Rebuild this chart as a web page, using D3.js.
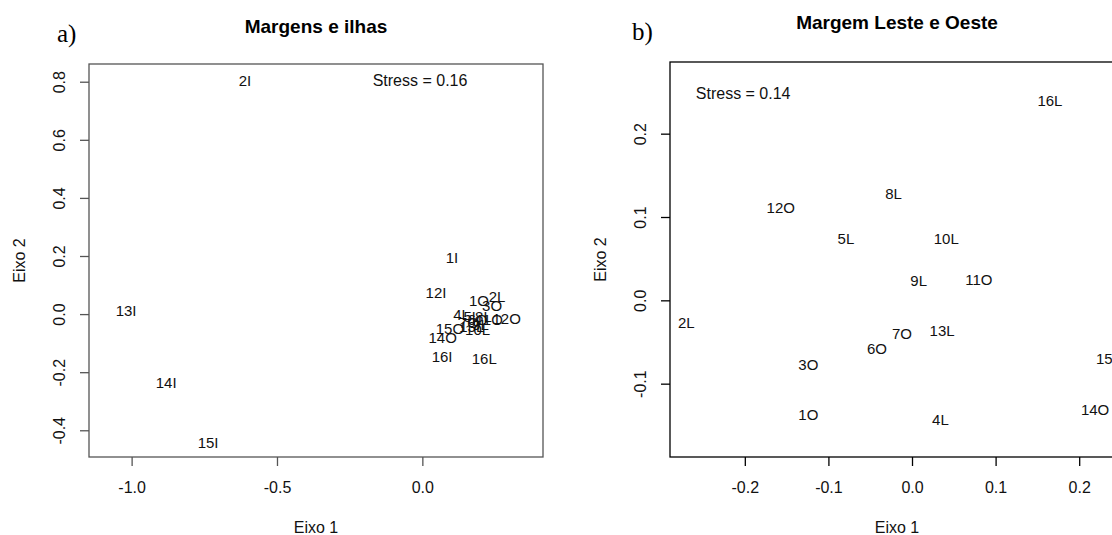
<!DOCTYPE html>
<html>
<head>
<meta charset="utf-8">
<script src="https://cdn.jsdelivr.net/npm/d3@7"></script>
<style>
  body { margin: 0; background: #fff; }
  svg { display: block; font-family: "Liberation Sans", Arial, sans-serif; }
</style>
</head>
<body>
<div id="chart"></div>
<script>
// NMDS scores

// panel a) Margens e ilhas
var labelsA = ["2I", "1I", "12I", "13I", "14I", "15I", "16I",
  "1O", "3O", "2L", "12O", "4L", "5L", "6O", "7O", "8L", "9L", "10L", "11O", "13L", "15O", "14O", "16L"];
var axis1A = [-0.610, 0.102, 0.047, -1.019, -0.881, -0.737, 0.068,
  0.195, 0.240, 0.257, 0.290, 0.135, 0.170, 0.190, 0.160, 0.210, 0.200, 0.190, 0.230, 0.170, 0.095, 0.070, 0.213];
var axis2A = [0.805, 0.193, 0.073, 0.011, -0.237, -0.444, -0.148,
  0.045, 0.030, 0.061, -0.015, -0.002, -0.010, -0.020, -0.030, -0.008, -0.035, -0.055, -0.020, -0.045, -0.050, -0.080, -0.155];
var xTicksA = [-1.0, -0.5, 0.0];
var yTicksA = [-0.4, -0.2, 0.0, 0.2, 0.4, 0.6, 0.8];
var stressA = {text: "Stress = 0.16", x: -0.008, y: 0.805};

// panel b) Margem Leste e Oeste
var labelsB = ["16L", "8L", "12O", "5L", "10L", "9L", "11O", "2L", "7O", "13L", "6O", "3O", "15O", "1O", "14O", "4L"];
var axis1B = [0.165, -0.022, -0.157, -0.079, 0.041, 0.008, 0.080, -0.270, -0.012, 0.036, -0.042, -0.124, 0.237, -0.124, 0.219, 0.034];
var axis2B = [0.239, 0.128, 0.111, 0.074, 0.074, 0.023, 0.025, -0.027, -0.040, -0.036, -0.058, -0.077, -0.070, -0.137, -0.131, -0.143];
var xTicksB = [-0.2, -0.1, 0.0, 0.1, 0.2];
var yTicksB = [-0.1, 0.0, 0.1, 0.2];
var stressB = {text: "Stress = 0.14", x: -0.202, y: 0.2485};

var svg = d3.select("#chart").append("svg")
  .attr("width", 1112)
  .attr("height", 535);

svg.append("rect").attr("width", 1112).attr("height", 535).attr("fill", "#fff");

// R prints a plain hyphen, not the unicode minus
var fmt = function(v) { return d3.format(".1f")(v).replace("\u2212", "-"); };

function drawPanel(opt) {
  var x = d3.scaleLinear().domain(opt.xDomain).range([opt.left, opt.right]);
  var y = d3.scaleLinear().domain(opt.yDomain).range([opt.bottom, opt.top]);
  var g = svg.append("g");

  // plot box
  g.append("rect")
    .attr("x", opt.left).attr("y", opt.top)
    .attr("width", opt.right - opt.left).attr("height", opt.bottom - opt.top)
    .attr("fill", "none").attr("stroke", opt.line).attr("stroke-width", 1.3);

  // x axis
  var gx = g.append("g")
    .attr("transform", "translate(0," + opt.bottom + ")")
    .call(d3.axisBottom(x).tickValues(opt.xTicks).tickSize(9).tickFormat(fmt));
  gx.select(".domain").remove();
  gx.selectAll("line").attr("stroke", opt.line).attr("stroke-width", 1.3);
  gx.selectAll("text")
    .attr("y", 30).attr("dy", "0.35em")
    .attr("fill", "#111").attr("font-size", 16)
    .attr("font-family", "Liberation Sans, Arial, sans-serif");

  // y axis, labels turned like R's las = 0
  var gy = g.append("g")
    .attr("transform", "translate(" + opt.left + ",0)")
    .call(d3.axisLeft(y).tickValues(opt.yTicks).tickSize(9).tickFormat(fmt));
  gy.select(".domain").remove();
  gy.selectAll("line").attr("stroke", opt.line).attr("stroke-width", 1.3);
  gy.selectAll("text")
    .attr("x", 0).attr("y", -30).attr("dy", "0.35em")
    .attr("transform", "rotate(-90)")
    .attr("text-anchor", "middle")
    .attr("fill", "#111").attr("font-size", 16)
    .attr("font-family", "Liberation Sans, Arial, sans-serif");

  // axis titles
  g.append("text")
    .attr("x", (opt.left + opt.right) / 2).attr("y", opt.bottom + 70).attr("dy", "0.35em")
    .attr("text-anchor", "middle").attr("font-size", 16).attr("fill", "#111")
    .text("Eixo 1");
  g.append("text")
    .attr("transform", "translate(" + (opt.left - 70) + "," + ((opt.top + opt.bottom) / 2) + ") rotate(-90)")
    .attr("dy", "0.35em")
    .attr("text-anchor", "middle").attr("font-size", 16).attr("fill", "#111")
    .text("Eixo 2");

  // title and panel letter
  g.append("text")
    .attr("x", (opt.left + opt.right) / 2).attr("y", opt.titleY)
    .attr("text-anchor", "middle").attr("font-size", 19).attr("font-weight", "bold")
    .attr("fill", "#000")
    .text(opt.title);
  g.append("text")
    .attr("x", opt.letterX).attr("y", opt.letterY)
    .attr("font-family", "Liberation Serif, Times New Roman, serif")
    .attr("font-size", 25).attr("fill", "#000")
    .text(opt.letter);

  // stress annotation
  g.append("text")
    .attr("x", x(opt.stress.x)).attr("y", y(opt.stress.y)).attr("dy", "0.35em")
    .attr("text-anchor", "middle").attr("font-size", 16).attr("fill", "#111")
    .text(opt.stress.text);

  // sites plotted as text labels
  g.append("g").selectAll("text")
    .data(opt.labels)
    .join("text")
    .attr("x", function(d, i) { return x(opt.ax1[i]); })
    .attr("y", function(d, i) { return y(opt.ax2[i]); })
    .attr("dy", "0.35em")
    .attr("text-anchor", "middle")
    .attr("font-size", 15)
    .attr("fill", "#111")
    .text(function(d) { return d; });
}

drawPanel({
  labels: labelsA, ax1: axis1A, ax2: axis2A,
  xTicks: xTicksA, yTicks: yTicksA, stress: stressA,
  xDomain: [-1.1466, 0.415], yDomain: [-0.492, 0.861],
  left: 89, right: 543, top: 64, bottom: 457,
  line: "#555",
  title: "Margens e ilhas", titleY: 33,
  letter: "a)", letterX: 57, letterY: 42
});

drawPanel({
  labels: labelsB, ax1: axis1B, ax2: axis2B,
  xTicks: xTicksB, yTicks: yTicksB, stress: stressB,
  xDomain: [-0.2895, 0.2536], yDomain: [-0.188, 0.286],
  left: 670, right: 1124, top: 62, bottom: 457,
  line: "#000",
  title: "Margem Leste e Oeste", titleY: 29,
  letter: "b)", letterX: 632, letterY: 40
});
</script>
</body>
</html>
